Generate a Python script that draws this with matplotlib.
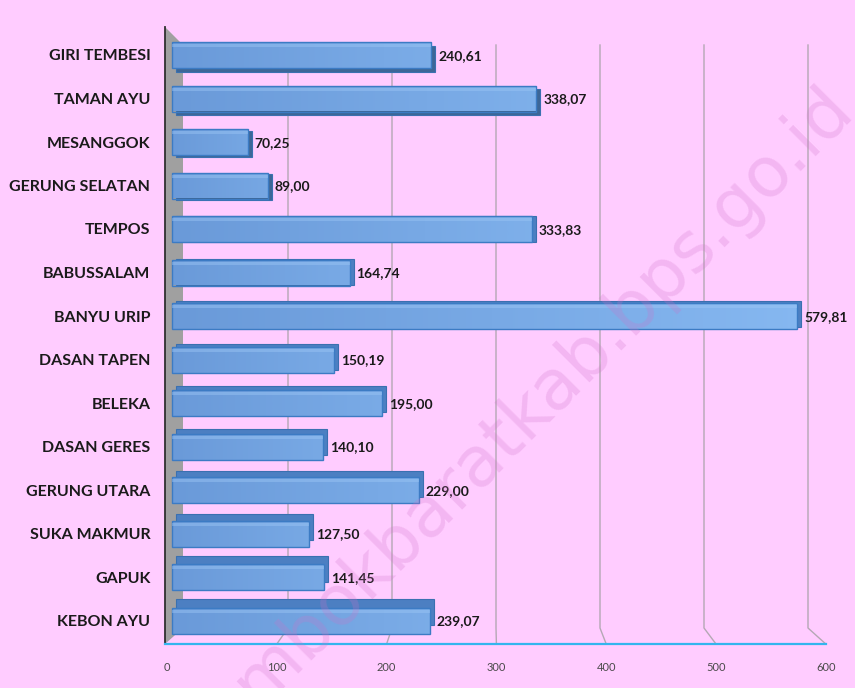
import numpy as np
import matplotlib.pyplot as plt
from matplotlib.colors import LinearSegmentedColormap
from matplotlib.patches import Polygon, Rectangle

plt.rcParams['font.family'] = ['Lato', 'DejaVu Sans']

desa = [
    "GIRI TEMBESI", "TAMAN AYU", "MESANGGOK", "GERUNG SELATAN", "TEMPOS",
    "BABUSSALAM", "BANYU URIP", "DASAN TAPEN", "BELEKA", "DASAN GERES",
    "GERUNG UTARA", "SUKA MAKMUR", "GAPUK", "KEBON AYU",
]
luas = [
    240.61, 338.07, 70.25, 89.00, 333.83,
    164.74, 579.81, 150.19, 195.00, 140.10,
    229.00, 127.50, 141.45, 239.07,
]
x_ticks = [0, 100, 200, 300, 400, 500, 600]

BG = "#FFCCFF"
PX_X = 1.078   # pixel per data unit along x (bar plane)
PX_Y = 43.5    # pixel per row
AX_L, AX_R = 158, 838

bar_cmap = LinearSegmentedColormap.from_list("bar", ["#6A9AD9", "#86B8F1"])


def back_x(v):
    # gridline position on the back wall
    return (184 + 1.04 * v - 172) / PX_X


def front_x(v):
    # tick position on the front edge of the floor
    return (167 + 1.098 * v - 172) / PX_X


fig = plt.figure(figsize=(8.55, 6.88), dpi=100)
fig.patch.set_facecolor(BG)
ax = fig.add_axes([AX_L / 855, (688 - 644) / 688, (AX_R - AX_L) / 855, (644 - 27) / 688])
ax.set_facecolor(BG)
for s in ax.spines.values():
    s.set_visible(False)

y_top = -(55 - 27) / PX_Y
y_bot = 13 + (644 - 620.5) / PX_Y
y_grid_top = -(55 - 45) / PX_Y
y_grid_low = 13 + (628 - 620.5) / PX_Y

# gridlines on the back wall + diagonal onto floor
for v in x_ticks[1:]:
    xb, xf = back_x(v), front_x(v)
    ax.plot([xb, xb, xf], [y_grid_top, y_grid_low, y_bot], color="#B4A8B4",
            lw=1, zorder=1, clip_on=False)

# left side wall
wall_l, wall_r = -7 / PX_X, 11 / PX_X
ax.add_patch(Polygon([(wall_l, y_top), (wall_r, y_grid_top), (wall_r, y_grid_low),
                      (wall_l, y_bot)], closed=True, facecolor="#A0A0A0",
                     edgecolor="none", zorder=2, clip_on=False))
ax.plot([wall_l, wall_l], [y_top, y_bot], color="#303030", lw=1.3, zorder=3,
        clip_on=False)

# floor front edge
ax.plot([wall_l, front_x(600)], [y_bot, y_bot], color="#33B5EE", lw=1.6,
        zorder=3, clip_on=False)

# bars with a small 3D look
h = 26 / PX_Y
cap = 4 / PX_X
grad = np.linspace(0, 1, 256).reshape(1, -1)
for k, (name, v) in enumerate(zip(desa, luas)):
    oy = -(k - 4) / PX_Y
    depth_col = "#3D6697" if oy > 0 else "#4C7FC2"
    ax.add_patch(Rectangle((cap, k - h / 2 + oy), v, h, facecolor=depth_col,
                           edgecolor="#3A70B0", lw=0.8, zorder=4))
    front = Rectangle((0, k - h / 2), v, h, facecolor="none",
                      edgecolor="#3C7BC4", lw=1.0, zorder=5.5)
    ax.add_patch(front)
    im = ax.imshow(grad * (0.35 + 0.65 * v / 600), cmap=bar_cmap, vmin=0, vmax=1,
                   extent=(0, v, k + h / 2, k - h / 2), aspect="auto",
                   interpolation="bilinear", zorder=5)
    im.set_clip_path(front)
    ax.add_patch(Rectangle((0, k - h / 2 + 2 / PX_Y), v, 3 / PX_Y,
                           facecolor="#9CC6F5", edgecolor="none", alpha=0.45,
                           zorder=6))
    ax.text(v + 7 / PX_X, k + 1 / PX_Y, f"{v:.2f}".replace(".", ","),
            ha="left", va="center", fontsize=10, fontweight="bold",
            color="#1A1A1A", zorder=7)

ax.set_yticks(range(len(desa)))
ax.set_yticklabels(desa, fontsize=11.5, fontweight="bold", color="#1A1A1A")
ax.tick_params(axis="y", length=0, pad=5.5)

ax.set_xticks([front_x(v) for v in x_ticks])
ax.set_xticklabels([str(v) for v in x_ticks], fontsize=8, color="#4A4A4A")
ax.tick_params(axis="x", length=0, pad=13)

# set limits after the ticks so they are not widened
ax.set_xlim((AX_L - 172) / PX_X, (AX_R - 172) / PX_X)
ax.set_ylim(y_bot, y_top)

# watermark, faint and on top like the source image
fig.text(0.626, 0.374, "lombokbaratkab.bps.go.id", rotation=45, fontsize=50,
         color="#D070C8", alpha=0.24, ha="center", va="baseline",
         rotation_mode="anchor", family="DejaVu Sans", zorder=10)

fig.savefig("out.png", dpi=100, facecolor=BG)
